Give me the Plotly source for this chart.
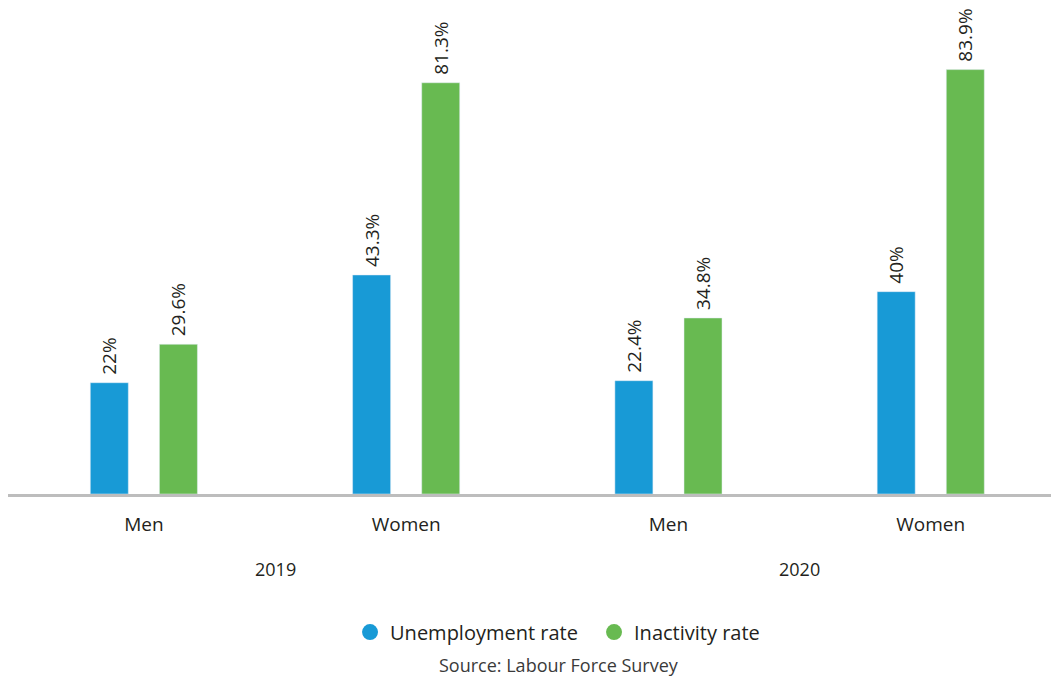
import plotly.graph_objects as go

years = ["2019", "2020"]
groups = ["Men", "Women", "Men", "Women"]
categories = ["2019 Men", "2019 Women", "2020 Men", "2020 Women"]
unemployment = [22, 43.3, 22.4, 40]
inactivity = [29.6, 81.3, 34.8, 83.9]
unemp_labels = ["22%", "43.3%", "22.4%", "40%"]
inact_labels = ["29.6%", "81.3%", "34.8%", "83.9%"]
series_names = ["Unemployment rate", "Inactivity rate"]
source_text = "Source: Labour Force Survey"

BLUE = "#189AD6"
GREEN = "#68BA51"
FONT = "Open Sans, Noto Sans, sans-serif"
TXT = "#231f20"

fig = go.Figure()
for vals, labs, nm, col in [(unemployment, unemp_labels, series_names[0], BLUE),
                            (inactivity, inact_labels, series_names[1], GREEN)]:
    fig.add_trace(go.Bar(
        x=categories, y=vals, name=nm, marker_color=col,
        text=labs, texttemplate="\u00a0%{text}",
        textposition="outside", textangle=-90, constraintext="none",
        textfont=dict(size=19, color=TXT, family=FONT),
        cliponaxis=False, showlegend=False,
    ))
# legend entries with circular markers
for nm, col in zip(series_names, [BLUE, GREEN]):
    fig.add_trace(go.Scatter(
        x=[None], y=[None], mode="markers", name=nm,
        marker=dict(color=col, size=17, symbol="circle"),
    ))

year_annots = [dict(text=y, xref="x", yref="paper", x=2 * i + 0.5, y=-0.157,
                    showarrow=False, font=dict(size=18, color=TXT),
                    xanchor="center", yanchor="middle")
               for i, y in enumerate(years)]

fig.update_layout(
    width=1051, height=671,
    margin=dict(l=0, r=0, t=10, b=185, autoexpand=False),
    paper_bgcolor="white", plot_bgcolor="white",
    barmode="group", bargap=0.473, bargroupgap=0.45,
    font=dict(family=FONT, color=TXT, size=19),
    legend=dict(orientation="h", x=0.5576, xanchor="center", y=-0.290, yanchor="middle",
                font=dict(size=20, color=TXT), itemwidth=30,
                entrywidth=199, entrywidthmode="pixels"),
    xaxis=dict(type="category", tickvals=categories, ticktext=groups,
               range=[-0.518, 3.489], showline=True, automargin=False,
               linecolor="#bdbdbd", linewidth=3, ticks="", showgrid=False,
               tickfont=dict(size=19, color=TXT), ticklabelstandoff=11),
    yaxis=dict(range=[0, 94.1], visible=False, showgrid=False, zeroline=False),
    annotations=year_annots + [dict(text=source_text, xref="paper", yref="paper",
                      x=0.524, y=-0.359, showarrow=False,
                      font=dict(size=18, color="#3a3a3a"),
                      xanchor="center", yanchor="middle")],
)
fig.write_html("out.html")
